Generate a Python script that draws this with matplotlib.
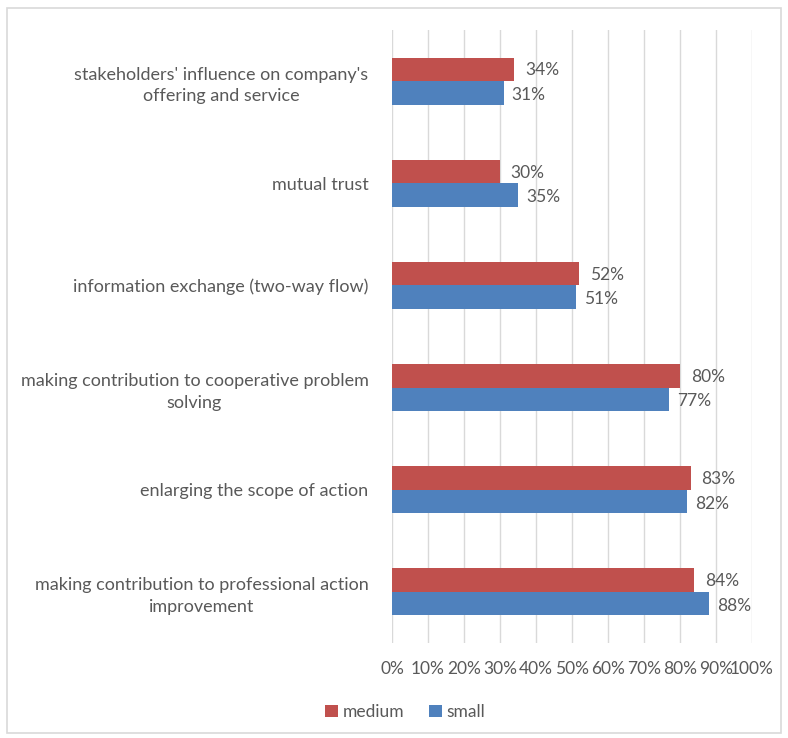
import numpy as np
import matplotlib.pyplot as plt
from matplotlib.patches import Rectangle

# --- Data (bottom to top) ---
categories = [
    'making contribution to professional action\nimprovement',
    'enlarging the scope of action',
    'making contribution to cooperative problem\nsolving',
    'information exchange (two-way flow)',
    'mutual trust',
    "stakeholders' influence on company's\noffering and service",
]
medium = [84, 83, 80, 52, 30, 34]
small = [88, 82, 77, 51, 35, 31]
ticks = [0, 10, 20, 30, 40, 50, 60, 70, 80, 90, 100]

plt.rcParams['font.family'] = ['Lato', 'DejaVu Sans']
text_color = '#595959'
red = '#C0504D'
blue = '#4F81BD'

fig = plt.figure(figsize=(7.88, 7.38), dpi=100)
ax = fig.add_axes([392 / 788, 1 - 643 / 738, 360 / 788, 613 / 738])

y = np.arange(len(categories))
h = 0.23
ax.barh(y + h / 2, medium, height=h, color=red, label='medium', zorder=3)
ax.barh(y - h / 2, small, height=h, color=blue, label='small', zorder=3)

for yi, m, s in zip(y, medium, small):
    ax.text(m + 3.0, yi + h / 2 - 0.01, f'{m}%', va='center', ha='left',
            fontsize=12.5, color=text_color)
    ax.text(s + 2.2, yi - h / 2 - 0.02, f'{s}%', va='center', ha='left',
            fontsize=12.5, color=text_color)

ax.set_xlim(0, 100)
ax.set_ylim(-0.5, len(categories) - 0.5)
ax.set_xticks(ticks)
ax.set_xticklabels([f'{t}%' for t in ticks], fontsize=12.5, color=text_color)
ax.set_yticks(y)
ax.set_yticklabels(categories, fontsize=13, color=text_color,
                   multialignment='center', linespacing=1.45)
ax.tick_params(axis='both', length=0)
ax.tick_params(axis='x', pad=13)
ax.tick_params(axis='y', pad=17)
ax.grid(axis='x', color='#D9D9D9', linewidth=1, zorder=0)
for sp in ax.spines.values():
    sp.set_visible(False)

leg = fig.legend(loc='center', bbox_to_anchor=(405 / 788, 1 - 712 / 738),
                 ncol=2, frameon=False, fontsize=12.5, handlelength=0.75,
                 handleheight=0.75, handletextpad=0.25, columnspacing=1.4)
for t in leg.get_texts():
    t.set_color(text_color)

# outer chart border
fig.patches.append(Rectangle((7 / 788, 5 / 738), 774 / 788, 725 / 738,
                             transform=fig.transFigure, fill=False,
                             edgecolor='#D9D9D9', linewidth=1.2))

fig.savefig('out.png', dpi=100)
